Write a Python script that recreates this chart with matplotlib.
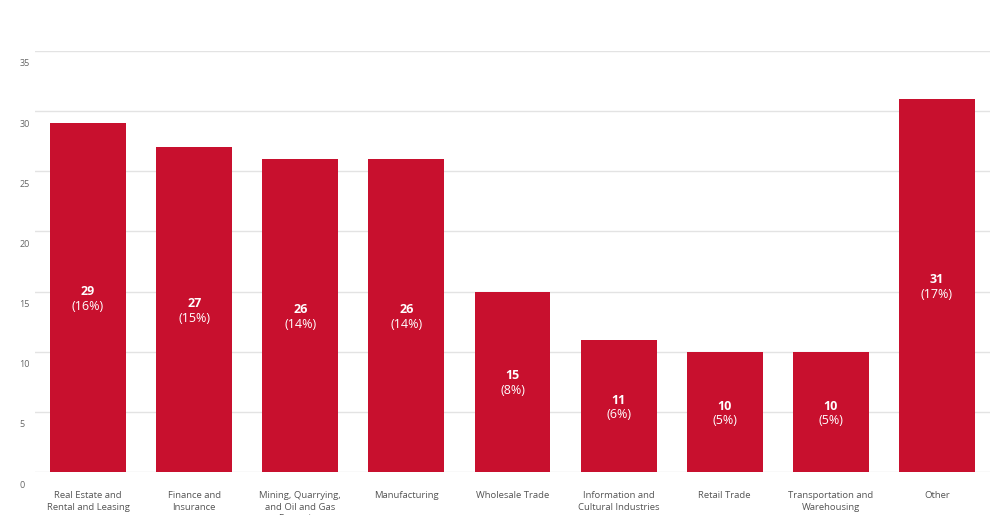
import matplotlib
matplotlib.use("Agg")
import matplotlib.pyplot as plt
from matplotlib.transforms import ScaledTranslation

categories = [
    "Real Estate and\nRental and Leasing",
    "Finance and\nInsurance",
    "Mining, Quarrying,\nand Oil and Gas\nExtraction",
    "Manufacturing",
    "Wholesale Trade",
    "Information and\nCultural Industries",
    "Retail Trade",
    "Transportation and\nWarehousing",
    "Other",
]
values = [29, 27, 26, 26, 15, 11, 10, 10, 31]
percents = ["16%", "15%", "14%", "14%", "8%", "6%", "5%", "5%", "17%"]
yticks = [0, 5, 10, 15, 20, 25, 30, 35]

plt.rcParams['font.family'] = ['Open Sans', 'DejaVu Sans']

fig = plt.figure(figsize=(10, 5.15), dpi=100)
ax = fig.add_axes([0.035, 1 - 472 / 515, 0.955, (472 - 51) / 515])

x = list(range(len(categories)))
ax.bar(x, values, width=0.716, color="#C8102E", zorder=3)
ax.set_xlim(-0.5, len(categories) - 0.5)
ax.set_ylim(0, 35)

for s in ax.spines.values():
    s.set_visible(False)

ax.set_yticks(yticks)
ax.yaxis.grid(True, color="#e3e3e3", linewidth=1)
ax.set_axisbelow(True)
ax.tick_params(axis='y', length=0, labelsize=6.5, labelcolor="#666666", pad=4)
ax.set_yticklabels([str(v) for v in yticks])
off = ScaledTranslation(-0.1, -12 / 100, fig.dpi_scale_trans)
for lab in ax.get_yticklabels():
    lab.set_transform(lab.get_transform() + off)
    lab.set_horizontalalignment('left')

ax.set_xticks(x)
ax.set_xticklabels(categories, fontsize=6.8, color="#555555", linespacing=1.3)
ax.tick_params(axis='x', length=0, pad=14)

for xi, v, p in zip(x, values, percents):
    ax.annotate(f"{v}", (xi, v / 2), xytext=(0, -0.5), textcoords='offset points',
                ha='center', va='bottom', color='white',
                fontsize=9, fontweight='bold', zorder=4)
    ax.annotate(f"({p})", (xi, v / 2), xytext=(0, -1.8), textcoords='offset points',
                ha='center', va='top', color='white', fontsize=9, zorder=4)

fig.savefig("out.png", dpi=100)
